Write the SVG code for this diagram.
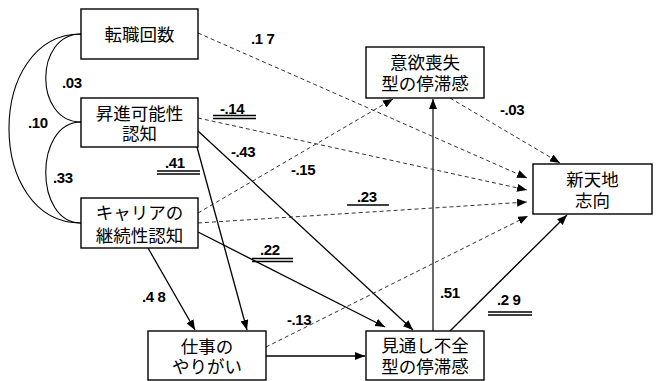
<svg xmlns="http://www.w3.org/2000/svg" width="657" height="381" viewBox="0 0 657 381">
<style>
.box{fill:#fff;stroke:#000;stroke-width:1.4}
.nt{font-family:"Noto Sans CJK JP","Noto Sans CJK SC",sans-serif;font-size:17.5px;fill:#000;text-anchor:middle}
.lb{font-family:"Liberation Sans",Arial,sans-serif;font-size:15px;font-weight:bold;fill:#000;letter-spacing:-0.4px}
.sol{fill:none;stroke:#000;stroke-width:1.3}
.gry{fill:none;stroke:#444;stroke-width:1.6}
.dsh{fill:none;stroke:#333;stroke-width:1;stroke-dasharray:4,3}
.cor{fill:none;stroke:#000;stroke-width:1.1}
.ul{stroke:#000;stroke-width:1.3}
</style>
<defs>
<marker id="ah" markerUnits="userSpaceOnUse" markerWidth="10" markerHeight="8" refX="10" refY="4" orient="auto">
<path d="M0,0 L10,4 L0,8 z" fill="#000"/>
</marker>
</defs>
<g id="connectors">
<path class="cor" d="M81,34 C34,34 34,122 81,122"/>
<path class="cor" d="M81,122 C34,122 34,223 81,223"/>
<path class="cor" d="M81,34 C-15,34 -15,223 81,223"/>
<path class="dsh" d="M198,33 L527,178" marker-end="url(#ah)"/>
<path class="dsh" d="M198,118 L527,190" marker-end="url(#ah)"/>
<path class="dsh" d="M198,223 L527,202" marker-end="url(#ah)"/>
<path class="dsh" d="M198,213 L393,99" marker-end="url(#ah)"/>
<path class="dsh" d="M450,98 L560,163" marker-end="url(#ah)"/>
<path class="dsh" d="M266,347 L528,216" marker-end="url(#ah)"/>
<path class="sol" d="M198,131 L413,330" marker-end="url(#ah)"/>
<path class="sol" d="M197,147 L247,330" marker-end="url(#ah)"/>
<path class="sol" d="M148,248 L195,330" marker-end="url(#ah)"/>
<path class="sol" d="M198,232 L385,327" marker-end="url(#ah)"/>
<path class="sol" d="M266,356 L365,356" marker-end="url(#ah)"/>
<path class="gry" d="M433,331 L433,99" marker-end="url(#ah)"/>
<path class="sol" d="M450,331 L567,215" marker-end="url(#ah)"/>
</g>
<g id="labels">
<text class="lb" x="251" y="44">.1 7</text>
<text class="lb" x="62" y="88">.03</text>
<text class="lb" x="28" y="128">.10</text>
<text class="lb" x="53" y="183">.33</text>
<text class="lb" x="220" y="114">-.14</text>
<line class="ul" x1="213" y1="115.5" x2="256" y2="115.5"/><line class="ul" x1="213" y1="118.5" x2="256" y2="118.5"/>
<text class="lb" x="165" y="168">.41</text>
<line class="ul" x1="157" y1="171" x2="200" y2="171"/><line class="ul" x1="157" y1="174" x2="200" y2="174"/>
<text class="lb" x="231" y="157">-.43</text>
<text class="lb" x="291" y="175">-.15</text>
<text class="lb" x="357" y="202">.23</text>
<line class="ul" x1="347" y1="205" x2="389" y2="205"/>
<text class="lb" x="260" y="255">.22</text>
<line class="ul" x1="252" y1="258.5" x2="293" y2="258.5"/><line class="ul" x1="252" y1="261.5" x2="293" y2="261.5"/>
<text class="lb" x="142" y="302">.4 8</text>
<text class="lb" x="287" y="325">-.13</text>
<text class="lb" x="440" y="298">.51</text>
<text class="lb" x="497" y="305">.2 9</text>
<line class="ul" x1="488" y1="312" x2="532" y2="312"/><line class="ul" x1="488" y1="315" x2="532" y2="315"/>
<text class="lb" x="500" y="115">-.03</text>
</g>
<g id="n_tenshoku"><rect class="box" x="81" y="9" width="117" height="50"/><text class="nt" x="139.5" y="40.5">転職回数</text></g>
<g id="n_shoshin"><rect class="box" x="81" y="98" width="117" height="49"/><text class="nt" x="139.5" y="119.5">昇進可能性<tspan x="139.5" dy="20.5">認知</tspan></text></g>
<g id="n_career"><rect class="box" x="81" y="198" width="117" height="50"/><text class="nt" x="139.5" y="218.5">キャリアの<tspan x="139.5" dy="23">継続性認知</tspan></text></g>
<g id="n_yarigai"><rect class="box" x="148" y="331" width="118" height="49"/><text class="nt" x="207" y="352.5">仕事の<tspan x="207" dy="20.5">やりがい</tspan></text></g>
<g id="n_mitooshi"><rect class="box" x="366" y="331" width="118" height="49"/><text class="nt" x="425" y="351.5">見通し不全<tspan x="425" dy="21.5">型の停滞感</tspan></text></g>
<g id="n_iyoku"><rect class="box" x="366" y="47" width="118" height="51"/><text class="nt" x="425" y="68.5">意欲喪失<tspan x="425" dy="21.5">型の停滞感</tspan></text></g>
<g id="n_shintenchi"><rect class="box" x="533" y="164" width="119" height="50"/><text class="nt" x="592.5" y="185.5">新天地<tspan x="592.5" dy="21">志向</tspan></text></g>
</svg>
